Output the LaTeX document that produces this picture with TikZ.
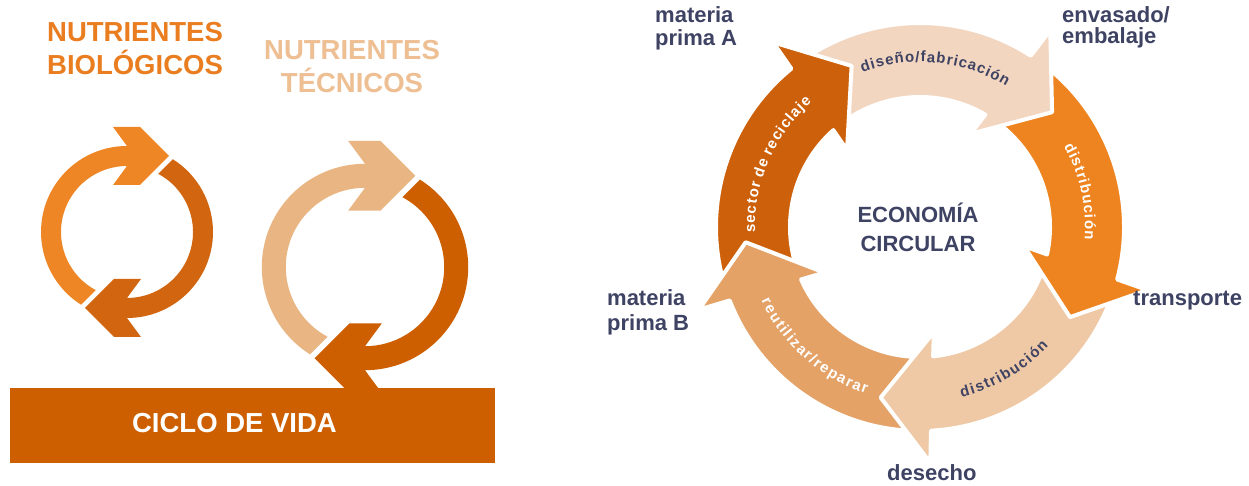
\documentclass[tikz,border=0pt]{standalone}
\usepackage{fontspec}
\setmainfont{Liberation Sans}
\usetikzlibrary{decorations.text}
\definecolor{bioLight}{HTML}{EE8626}
\definecolor{bioDark}{HTML}{D2650F}
\definecolor{techLight}{HTML}{E9B683}
\definecolor{techDark}{HTML}{CD5F00}
\definecolor{titleBio}{HTML}{E97D1F}
\definecolor{titleTech}{HTML}{EDBF93}
\definecolor{wDark}{HTML}{CD600A}
\definecolor{wPeach}{HTML}{F3D6C0}
\definecolor{wOrange}{HTML}{EE8420}
\definecolor{wLight}{HTML}{EFC9A5}
\definecolor{wMid}{HTML}{E4A267}
\definecolor{slate}{HTML}{3F4363}
\newcommand{\kk}{\kern1pt}
\newcommand{\kq}{\kern1.5pt}

\newcommand{\cycarrow}[1]{\fill[#1] (90:86pt) arc[start angle=90,end angle=237.8,radius=86pt] -- (241.8:66pt) arc[start angle=241.8,end angle=90,radius=66pt] -- (-14pt,47pt) -- (13pt,47pt) -- (42pt,76pt) -- (13pt,105pt) -- (-14pt,105pt) -- cycle;}

\newcommand{\wheelarrow}[3]{\filldraw[#3, draw=white, line width=4pt, line join=round] (#1-0.4:204pt) arc[start angle=#1-0.4, end angle=#2-0.4, radius=204pt] -- (#2-1:236pt) -- (#2-16.5:175pt) -- (#2+4:106pt) -- (#2+2.3:130pt) arc[start angle=#2+2.3, end angle=#1+2.3, radius=130pt] -- cycle;}

\begin{document}
\begin{tikzpicture}[x=1pt,y=1pt,
  ttl/.style={font=\fontsize{27.5}{30}\selectfont\bfseries, inner sep=0pt, anchor=base},
  lbl/.style={font=\fontsize{22}{24}\selectfont\bfseries, text=slate, inner sep=0pt, anchor=base west},
  ctr/.style={font=\fontsize{22}{26}\selectfont\bfseries, text=slate, inner sep=0pt, anchor=base}]
\useasboundingbox (0,0) rectangle (1249,486);
\fill[white] (0,0) rectangle (1249,486);

% titles
\node[ttl, text=titleBio] (bioT1) at (135,444) {NUTRIENTES};
\node[ttl, text=titleBio] (bioT2) at (135,411) {BIOLÓGICOS};
\node[ttl, text=titleTech] (tecT1) at (352,426) {NUTRIENTES};
\node[ttl, text=titleTech] (tecT2) at (352,393) {TÉCNICOS};

% biological cycle
\begin{scope}[shift={(127,254)}]
  \cycarrow{bioLight}
  \begin{scope}[rotate=180]\cycarrow{bioDark}\end{scope}
\end{scope}
% technical cycle
\begin{scope}[shift={(365,219)}, scale=1.2]
  \cycarrow{techLight}
  \begin{scope}[rotate=180]\cycarrow{techDark}\end{scope}
\end{scope}
% bar
\fill[techDark] (10,23) rectangle (495,98);
\node[ttl, text=white] (ciclo) at (234.5,53) {CICLO DE VIDA};

% circular economy wheel
\begin{scope}[shift={(920,259)}]
  \wheelarrow{-86.5}{-158.5}{wMid}
  \wheelarrow{-14.5}{-86.5}{wLight}
  \wheelarrow{57.5}{-14.5}{wOrange}
  \wheelarrow{129.5}{57.5}{wPeach}
  \wheelarrow{201.5}{129.5}{wDark}
  \begin{scope}
    \clip (0,0) -- (-150.5:270pt) arc[start angle=-150.5, end angle=-183.5, radius=270pt] -- cycle;
    \wheelarrow{-86.5}{-158.5}{wMid}
  \end{scope}
  \path[decorate, decoration={text along path, text align=center, text={|\fontsize{15}{15}\selectfont\bfseries\color{white}|{s\kk}{e\kk}{c\kk}{t\kk}{o\kk}{r\kk} {d\kk}{e\kk} {r\kk}{e\kk}{c\kk}{i\kk}{c\kk}{l\kk}{a\kk}{j\kk}{e}}}] (201.5:165pt) arc[start angle=201.5, end angle=111.5, radius=165pt];
  \path[decorate, decoration={text along path, text align=center, text={|\fontsize{15}{15}\selectfont\bfseries\color{slate}|{d\kk}{i\kk}{s\kk}{e\kk}{ñ\kk}{o\kk}{/\kk}{f\kk}{a\kk}{b\kk}{r\kk}{i\kk}{c\kk}{a\kk}{c\kk}{i\kk}{ó\kk}{n}}}] (129.5:165pt) arc[start angle=129.5, end angle=39.5, radius=165pt];
  \path[decorate, decoration={text along path, text align=center, text={|\fontsize{15}{15}\selectfont\bfseries\color{white}|{d\kk}{i\kk}{s\kk}{t\kk}{r\kk}{i\kk}{b\kk}{u\kk}{c\kk}{i\kk}{ó\kk}{n}}}] (57.5:165pt) arc[start angle=57.5, end angle=-32.5, radius=165pt];
  \path[decorate, decoration={text along path, text align=center, text={|\fontsize{15}{15}\selectfont\bfseries\color{slate}|{d\kq}{i\kq}{s\kq}{t\kq}{r\kq}{i\kq}{b\kq}{u\kq}{c\kq}{i\kq}{ó\kq}{n}}}] (-104.5:175pt) arc[start angle=-104.5, end angle=-14.5, radius=175pt];
  \path[decorate, decoration={text along path, text align=center, text={|\fontsize{15}{15}\selectfont\bfseries\color{white}|{r\kq}{e\kq}{u\kq}{t\kq}{i\kq}{l\kq}{i\kq}{z\kq}{a\kq}{r\kq}{/\kq}{r\kq}{e\kq}{p\kq}{a\kq}{r\kq}{a\kq}{r}}}] (183.5:175pt) arc[start angle=183.5, end angle=273.5, radius=175pt];
\end{scope}
\node[ctr] (eco1) at (918,263) {ECONOMÍA};
\node[ctr] (eco2) at (918,234) {CIRCULAR};

% outer labels
\node[lbl] (mA1) at (655,463) {materia};
\node[lbl] (mA2) at (655,440) {prima A};
\node[lbl] (env1) at (1062,463) {envasado/};
\node[lbl] (env2) at (1062,442) {embalaje};
\node[lbl] (trans) at (1133,180) {transporte};
\node[lbl] (mB1) at (607,180) {materia};
\node[lbl] (mB2) at (607,155) {prima B};
\node[lbl] (des) at (887,5) {desecho};
\end{tikzpicture}
\end{document}
